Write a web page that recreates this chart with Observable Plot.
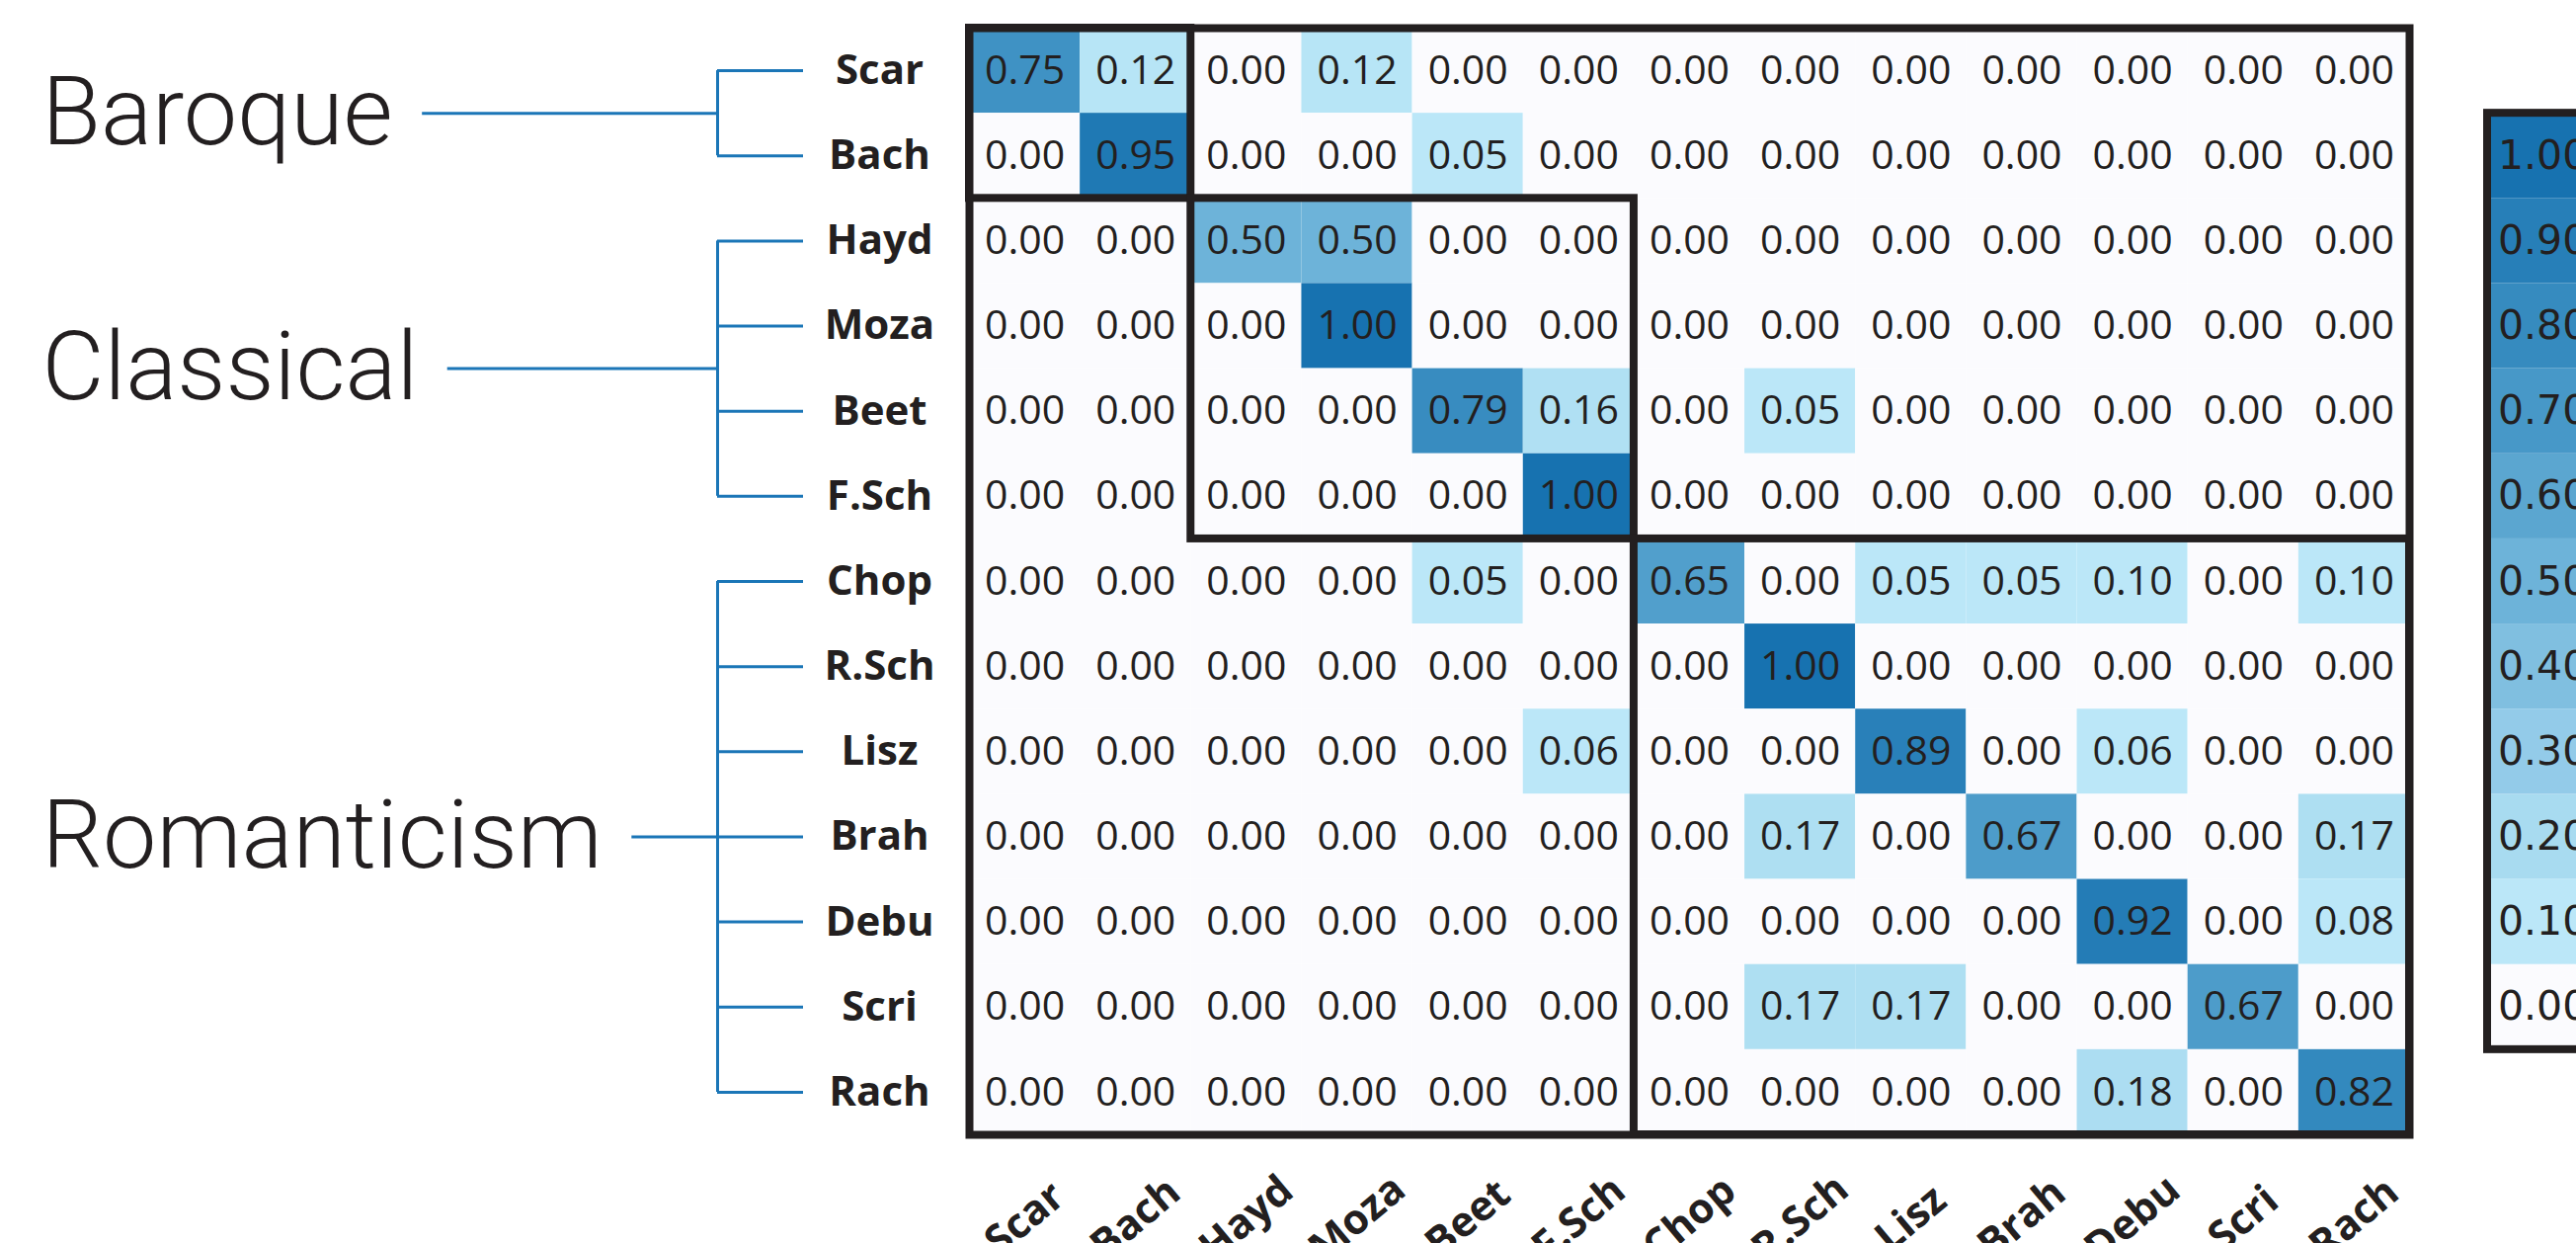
<!DOCTYPE html>
<html>
<head>
<meta charset="utf-8">
<script src="https://cdn.jsdelivr.net/npm/d3@7"></script>
<script src="https://cdn.jsdelivr.net/npm/@observablehq/plot@0.6"></script>
<style>
  html, body { margin: 0; padding: 0; background: #ffffff; }
  #chart svg { display: block; }
</style>
</head>
<body>
<div id="chart"></div>
<script>
// ---------------- data ----------------
const composers = ["Scar", "Bach", "Hayd", "Moza", "Beet", "F.Sch", "Chop", "R.Sch", "Lisz", "Brah", "Debu", "Scri", "Rach"];
const groupNames = ["Baroque", "Classical", "Romanticism"];
const groupSizes = [2, 4, 7];

// rows = true composer, columns = predicted composer
const values = [
  [0.75, 0.12, 0.00, 0.12, 0.00, 0.00, 0.00, 0.00, 0.00, 0.00, 0.00, 0.00, 0.00],
  [0.00, 0.95, 0.00, 0.00, 0.05, 0.00, 0.00, 0.00, 0.00, 0.00, 0.00, 0.00, 0.00],
  [0.00, 0.00, 0.50, 0.50, 0.00, 0.00, 0.00, 0.00, 0.00, 0.00, 0.00, 0.00, 0.00],
  [0.00, 0.00, 0.00, 1.00, 0.00, 0.00, 0.00, 0.00, 0.00, 0.00, 0.00, 0.00, 0.00],
  [0.00, 0.00, 0.00, 0.00, 0.79, 0.16, 0.00, 0.05, 0.00, 0.00, 0.00, 0.00, 0.00],
  [0.00, 0.00, 0.00, 0.00, 0.00, 1.00, 0.00, 0.00, 0.00, 0.00, 0.00, 0.00, 0.00],
  [0.00, 0.00, 0.00, 0.00, 0.05, 0.00, 0.65, 0.00, 0.05, 0.05, 0.10, 0.00, 0.10],
  [0.00, 0.00, 0.00, 0.00, 0.00, 0.00, 0.00, 1.00, 0.00, 0.00, 0.00, 0.00, 0.00],
  [0.00, 0.00, 0.00, 0.00, 0.00, 0.06, 0.00, 0.00, 0.89, 0.00, 0.06, 0.00, 0.00],
  [0.00, 0.00, 0.00, 0.00, 0.00, 0.00, 0.00, 0.17, 0.00, 0.67, 0.00, 0.00, 0.17],
  [0.00, 0.00, 0.00, 0.00, 0.00, 0.00, 0.00, 0.00, 0.00, 0.00, 0.92, 0.00, 0.08],
  [0.00, 0.00, 0.00, 0.00, 0.00, 0.00, 0.00, 0.17, 0.17, 0.00, 0.00, 0.67, 0.00],
  [0.00, 0.00, 0.00, 0.00, 0.00, 0.00, 0.00, 0.00, 0.00, 0.00, 0.18, 0.00, 0.82]
];

const legendTicks = [0.0, 0.1, 0.2, 0.3, 0.4, 0.5, 0.6, 0.7, 0.8, 0.9, 1.0];
const legendColors = ["#fbfbfe", "#bbe7f8", "#a8dbf0", "#93cbe9", "#80bfe0", "#6db3d9",
                      "#5ba6d0", "#4798c8", "#368bbf", "#277fb8", "#1772b0"];

// ---------------- styles / layout ----------------
const INK = "#231f20";
const BRACKET = "#1b76b7";
const WIDTH = 2608, HEIGHT = 1258;
const M_LEFT = 981, M_RIGHT = 169, M_TOP = 28, M_BOTTOM = 110;
const BORDER = 8;
const ROW_LABEL_DX = -91;
const BRACKET_DX = -255;
const TICK_END_INSET = 168;
const GROUP_LABEL_X = 42;
const GROUP_FONT = 97;
const CONNECTOR_GAP = 30;
const LEGEND_DX = 79;
const CELL_FONT = "Open Sans";
const LABEL_FONT = "Open Sans";
const GROUP_FONT_FAMILY = "Roboto";

// ---------------- derived tables ----------------
const n = composers.length;
const cells = values.flatMap((row, i) => row.map((v, j) => ({i, j, v})));
let acc = 0;
const groups = groupNames.map((name, g) => {
  const start = acc; acc += groupSizes[g];
  return {name, start, end: acc};
});
const rows = composers.map((name, i) => ({name, i}));
const legend = legendTicks.map((t, k) => ({t, k}));
const L = legendTicks.length;

// zero gets the lightest colour, any non-zero share at least the first step colour
const colorDomain = [legendTicks[0], 1e-6, ...legendTicks.slice(1)];
const colorRange = [legendColors[0], legendColors[1], ...legendColors.slice(1)];

const ctx = document.createElement("canvas").getContext("2d");
ctx.font = `300 ${GROUP_FONT}px ${GROUP_FONT_FAMILY}`;

const connectorMarks = groups.map(g => {
  const textEnd = GROUP_LABEL_X + ctx.measureText(g.name).width + CONNECTOR_GAP;
  return Plot.ruleY([g], {
    y: d => (d.start + d.end) / 2,
    x1: () => 0, x2: () => 0,
    insetLeft: -(M_LEFT - textEnd),
    insetRight: -BRACKET_DX,
    stroke: BRACKET, strokeWidth: 3
  });
});

const chart = Plot.plot({
  width: WIDTH,
  height: HEIGHT,
  marginLeft: M_LEFT,
  marginRight: M_RIGHT,
  marginTop: M_TOP,
  marginBottom: M_BOTTOM,
  x: {type: "linear", domain: [0, n], axis: null},
  y: {type: "linear", domain: [0, n], reverse: true, axis: null},
  color: {type: "linear", domain: colorDomain, range: colorRange, interpolate: "rgb"},
  style: {background: "#ffffff", color: INK},
  marks: [
    // matrix cells
    Plot.rect(cells, {x1: d => d.j, x2: d => d.j + 1, y1: d => d.i, y2: d => d.i + 1, fill: d => d.v}),
    Plot.text(cells, {
      x: d => d.j + 0.5, y: d => d.i + 0.5, text: d => d.v.toFixed(2),
      fill: INK, fontSize: 41, fontWeight: 400, fontFamily: CELL_FONT
    }),
    // group blocks
    Plot.rect(groups, {
      x1: d => d.start, x2: d => d.end, y1: d => d.start, y2: d => d.end,
      fill: "none", stroke: INK, strokeWidth: BORDER
    }),
    Plot.frame({stroke: INK, strokeWidth: BORDER}),
    // row labels
    Plot.text(rows, {
      x: () => 0, y: d => d.i + 0.5, dx: ROW_LABEL_DX, text: "name",
      textAnchor: "middle", fill: INK, fontSize: 42, fontWeight: 700, fontFamily: LABEL_FONT
    }),
    // column labels
    Plot.text(rows, {
      x: d => d.i + 0.5, y: () => n, dy: 85, text: "name", rotate: -40,
      textAnchor: "middle", fill: INK, fontSize: 42, fontWeight: 700, fontFamily: LABEL_FONT
    }),
    // brackets
    Plot.ruleX(groups, {
      x: () => 0, y1: d => d.start + 0.5, y2: d => d.end - 0.5, dx: BRACKET_DX,
      stroke: BRACKET, strokeWidth: 3
    }),
    Plot.ruleY(rows, {
      y: d => d.i + 0.5, x1: () => 0, x2: () => 0,
      insetLeft: BRACKET_DX, insetRight: TICK_END_INSET,
      stroke: BRACKET, strokeWidth: 3
    }),
    ...connectorMarks,
    // group labels
    Plot.text(groups, {
      x: () => 0, y: d => (d.start + d.end) / 2, dx: GROUP_LABEL_X - M_LEFT, text: "name",
      textAnchor: "start", fill: INK, fontSize: GROUP_FONT, fontWeight: 300, fontFamily: GROUP_FONT_FAMILY
    }),
    // colour bar
    Plot.rect(legend, {
      x1: () => n, x2: () => n + 1, y1: d => L - d.k, y2: d => L - d.k + 1, dx: LEGEND_DX,
      fill: d => d.t
    }),
    Plot.text(legend, {
      x: () => n + 0.5, y: d => L - d.k + 0.5, dx: LEGEND_DX, text: d => d.t.toFixed(2),
      fill: INK, fontSize: 41, fontFamily: "DejaVu Sans"
    }),
    Plot.rect([legend], {
      x1: () => n, x2: () => n + 1, y1: () => 1, y2: () => L + 1, dx: LEGEND_DX,
      fill: "none", stroke: INK, strokeWidth: BORDER
    })
  ]
});

document.getElementById("chart").appendChild(chart);
</script>
</body>
</html>
